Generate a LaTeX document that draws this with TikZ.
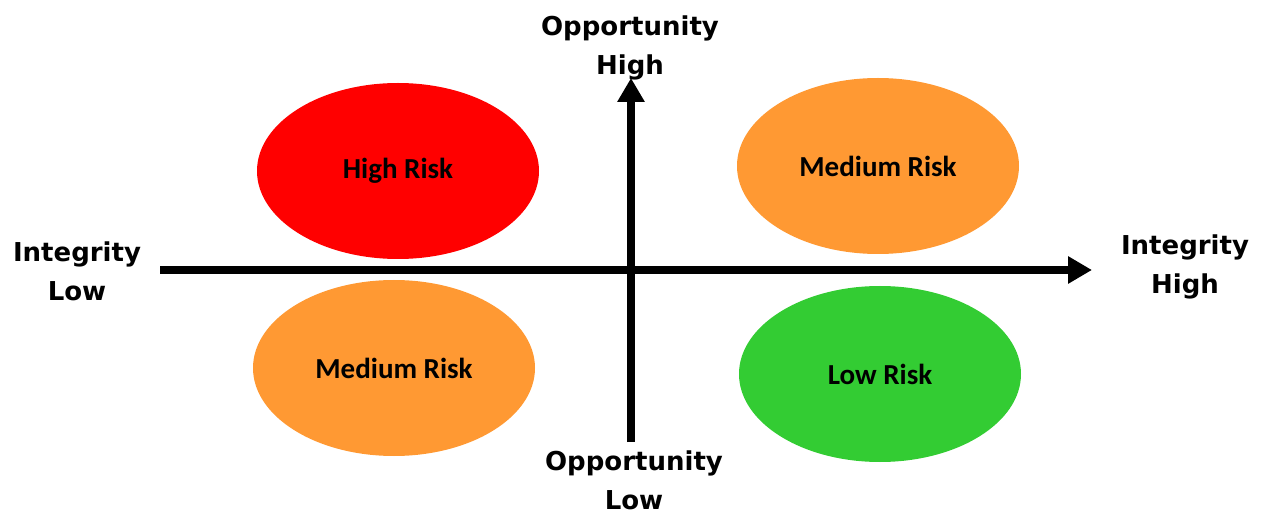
\documentclass[tikz,border=0pt]{standalone}
\usepackage{fontspec}
\setmainfont{DejaVu Sans}
\newfontfamily\calfont{Carlito}
\usetikzlibrary{shapes.geometric,arrows.meta}
\definecolor{riskred}{RGB}{255,0,0}
\definecolor{riskorange}{RGB}{255,153,51}
\definecolor{riskgreen}{RGB}{51,204,51}
\tikzset{
  riskoval/.style={ellipse, minimum width=282pt, minimum height=176pt, inner sep=0pt,
    font=\calfont\bfseries\fontsize{29}{32}\selectfont},
  axislabel/.style={align=center, font=\bfseries\fontsize{26}{39}\selectfont, inner sep=0pt},
  axisline/.style={line width=8pt, -{Triangle[width=26pt,length=24pt]}}
}
\begin{document}
\begin{tikzpicture}[x=1pt,y=-1pt]
\useasboundingbox (0,0) rectangle (1262,513);
\node[riskoval, fill=riskred] (high) at (398,171) {High Risk};
\node[riskoval, fill=riskorange] (medtr) at (878,166) {Medium Risk};
\node[riskoval, fill=riskorange] (medbl) at (394,368) {Medium Risk};
\node[riskoval, fill=riskgreen] (low) at (880,374) {Low Risk};
\coordinate (xstart) at (160,270);
\coordinate (xend) at (1092,270);
\coordinate (ystart) at (631,442);
\coordinate (yend) at (631,78);
\draw[axisline] (xstart) -- (xend);
\draw[axisline] (ystart) -- (yend);
\node[axislabel] (opphigh) at (630,48) {Opportunity\\High};
\node[axislabel] (opplow) at (634,480) {Opportunity\\Low};
\node[axislabel] (intlow) at (77,271) {Integrity\\Low};
\node[axislabel] (inthigh) at (1185,267) {Integrity\\High};
\end{tikzpicture}
\end{document}
